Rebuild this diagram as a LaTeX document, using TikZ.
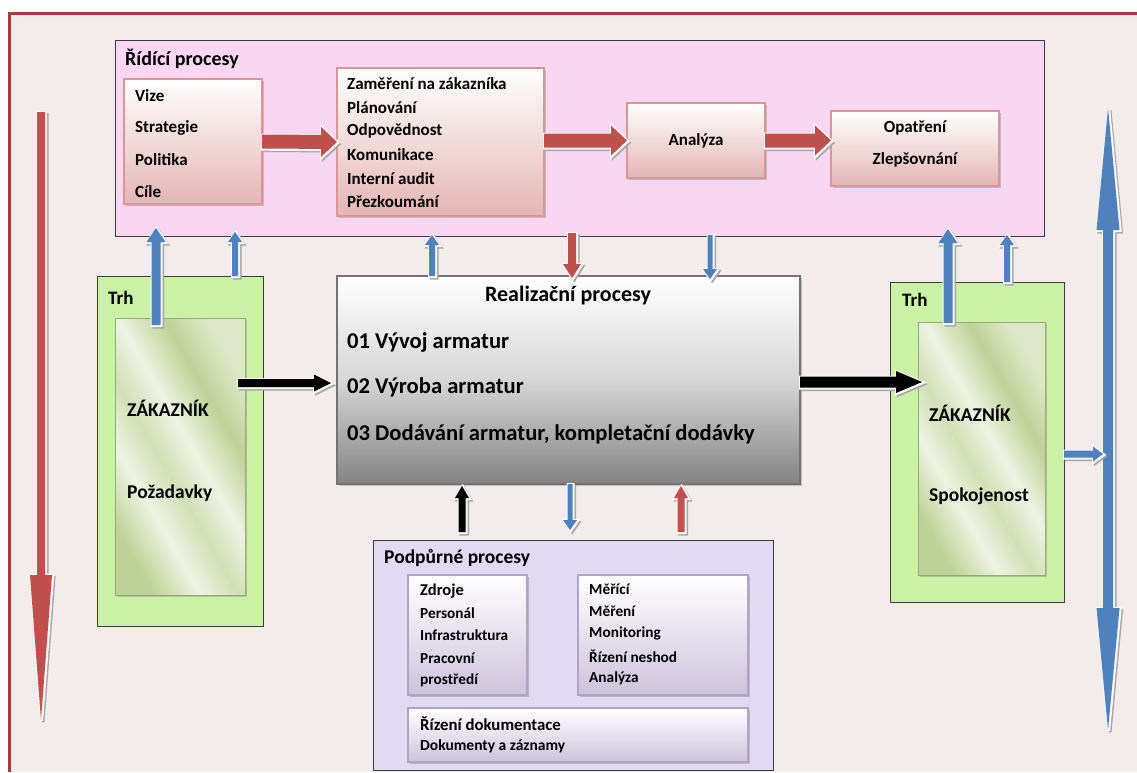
\documentclass[tikz,border=0pt]{standalone}
\usepackage{fontspec}
\setmainfont{Carlito}
\usetikzlibrary{calc,shadows}

\definecolor{bgpink}{HTML}{F4ECEC}
\definecolor{framered}{HTML}{A83C3C}
\definecolor{ridfill}{HTML}{F9D6F2}
\definecolor{rosebot}{HTML}{E4B6B5}
\definecolor{roseedge}{HTML}{D99694}
\definecolor{arrred}{HTML}{C0504D}
\definecolor{arrblue}{HTML}{4F81BD}
\definecolor{trhgreen}{HTML}{C9F2A4}
\definecolor{glassA}{HTML}{BFD297}
\definecolor{glassB}{HTML}{EEF3E2}
\definecolor{realbot}{HTML}{838383}
\definecolor{realmid}{HTML}{D6D6D6}
\definecolor{podfill}{HTML}{E0DAF3}
\definecolor{lilacbot}{HTML}{CDC2DC}
\definecolor{lilacedge}{HTML}{B3A2C7}
\definecolor{boxline}{HTML}{3C3C3C}

% striped glass look of the customer panels
\pgfdeclarehorizontalshading{glass}{100bp}{color(0bp)=(glassA); color(25bp)=(glassA);
  color(36bp)=(glassB); color(45bp)=(glassA!60!glassB); color(54bp)=(glassB);
  color(65bp)=(glassA); color(75bp)=(glassA!35!glassB); color(100bp)=(glassA!35!glassB)}

\tikzset{
  softshadow/.style={drop shadow={shadow xshift=2pt,shadow yshift=-2pt,fill=black!45,opacity=.45}},
  groupbox/.style={draw=boxline,line width=1pt},
  rosebox/.style={draw=roseedge,line width=1.2pt,top color=white,bottom color=rosebot,softshadow},
  lilacbox/.style={draw=lilacedge,line width=1.2pt,top color=white,bottom color=lilacbot,softshadow},
  glasspanel/.style={shading=glass,shading angle=30,draw=glassA!80!black,line width=.4pt,softshadow},
  realbox/.style={draw=black!55,line width=1.2pt,top color=white,bottom color=realbot,middle color=realmid,softshadow},
  txt/.style={inner sep=0pt,anchor=west,font=\bfseries\fontsize{#1}{#1}\selectfont},
  txt/.default=17,
  ctxt/.style={inner sep=0pt,anchor=center,font=\bfseries\fontsize{#1}{#1}\selectfont},
  ctxt/.default=17,
}

% rectangle node from its two corners
\newcommand\boxat[6]{%
  \node[#1,anchor=north west,minimum width={#5-#3},minimum height={#6-#4},inner sep=0pt,outer sep=0pt] (#2) at (#3,#4) {};}

% outlined block arrow: colour, shaft half width, head half width, head length, from, to, both ends (0/1)
\newcommand\blockarrowbase[7]{%
  \path (#5) coordinate (ba-s) (#6) coordinate (ba-e);
  \pgfpointdiff{\pgfpointanchor{ba-s}{center}}{\pgfpointanchor{ba-e}{center}}%
  \pgfgetlastxy\badx\bady
  \pgfmathsetmacro\baang{atan2(\bady,\badx)}%
  \pgfmathsetmacro\balen{veclen(\badx,\bady)}%
  \pgfmathsetmacro\babase{\balen-#4}%
  \ifnum#7=1
    \def\bashape{(0pt,0pt) -- (#4pt,-#3pt) -- (#4pt,-#2pt) -- (\babase pt,-#2pt) -- (\babase pt,-#3pt) -- (\balen pt,0pt)
      -- (\babase pt,#3pt) -- (\babase pt,#2pt) -- (#4pt,#2pt) -- (#4pt,#3pt) -- cycle}%
  \else
    \def\bashape{(0pt,-#2pt) -- (\babase pt,-#2pt) -- (\babase pt,-#3pt) -- (\balen pt,0pt)
      -- (\babase pt,#3pt) -- (\babase pt,#2pt) -- (0pt,#2pt) -- cycle}%
  \fi
  \begin{scope}[shift={(ba-s)},xshift=2.2pt,yshift=-2.2pt,rotate=\baang]
    \filldraw[fill=black!35,draw=black!35,line width=2.6pt] \bashape;
  \end{scope}
  \begin{scope}[shift={(ba-s)},xshift=.7pt,yshift=-.7pt,rotate=\baang]
    \filldraw[fill=white,draw=black!3,line width=3pt] \bashape;
  \end{scope}
  \begin{scope}[shift={(ba-s)},rotate=\baang]
    \fill[#1] \bashape;
  \end{scope}}
\newcommand\blockarrow[6]{\blockarrowbase{#1}{#2}{#3}{#4}{#5}{#6}{0}}
\newcommand\twowayarrow[6]{\blockarrowbase{#1}{#2}{#3}{#4}{#5}{#6}{1}}

\begin{document}
\begin{tikzpicture}[x=1pt,y=-1pt]
\useasboundingbox (0,0) rectangle (1137,772);

% page frame
\fill[bgpink] (9,13) rectangle (1137,772);
\draw[framered,line width=2.5pt] (9.5,772) -- (9.5,13.5) -- (1137,13.5);

% control processes
\boxat{groupbox,fill=ridfill}{rid}{115}{40}{1044}{236}
\node[txt=20] (ridt) at (125,59) {Řídící procesy};
\boxat{rosebox}{vize}{124}{79}{262}{204}
\foreach \t [count=\i] in {Vize,Strategie,Politika,Cíle}
  \node[txt] (vz\i) at (135,64+32*\i) {\t};
\boxat{rosebox}{zam}{337}{68}{544}{216}
\foreach \t [count=\i] in {Zaměření na zákazníka,Plánování,Odpovědnost,Komunikace,Interní audit,Přezkoumání}
  \node[txt] (zm\i) at (347,60.4+23.6*\i) {\t};
\boxat{rosebox}{ana}{627}{103}{765}{178}
\node[ctxt] (anat) at (ana.center) {Analýza};
\boxat{rosebox}{opa}{831}{111}{999}{186}
\node[ctxt] (opat) at (915,128) {Opatření};
\node[ctxt] (zlet) at (915,160) {Zlepšovnání};

% market, customer side
\boxat{groupbox,fill=trhgreen}{trhL}{97}{276}{263}{626}
\node[txt=19] (trhLt) at (108,298) {Trh};
\boxat{glasspanel}{zkL}{115}{318}{245}{595}
\node[txt=19.5] (zkL1) at (127,408) {ZÁKAZNÍK};
\node[txt=19.5] (zkL2) at (127,493) {Požadavky};

\boxat{groupbox,fill=trhgreen}{trhR}{890}{282}{1064}{602}
\node[txt=19] (trhRt) at (902,300) {Trh};
\boxat{glasspanel}{zkR}{918}{322}{1045}{575}
\node[txt=19.5] (zkR1) at (929,413) {ZÁKAZNÍK};
\node[txt=19.5] (zkR2) at (929,496) {Spokojenost};

% realisation processes
\boxat{realbox}{real}{337}{276}{800}{484}
\node[ctxt=22] (realt) at (568,296) {Realizační procesy};
\node[txt=22.6] (re1) at (347,342) {01 Vývoj armatur};
\node[txt=22.6] (re2) at (347,387) {02 Výroba armatur};
\node[txt=22.6] (re3) at (347,434) {03 Dodávání armatur, kompletační dodávky};

% support processes
\boxat{groupbox,fill=podfill}{pod}{373}{540}{773}{770}
\node[txt=19.5] (podt) at (384,558) {Podpůrné procesy};
\boxat{lilacbox}{zdr}{408}{575}{527}{695}
\node[txt=16.5] (zd1) at (420,591) {Zdroje};
\foreach \t [count=\i from 2] in {Personál,Infrastruktura,Pracovní,prostředí}
  \node[txt=15.3] (zd\i) at (420,569+22.2*\i) {\t};
\boxat{lilacbox}{mer}{578}{575}{748}{695}
\foreach \t [count=\i] in {Měřící,Měření,Monitoring,Řízení neshod,Analýza}
  \node[txt=15.3] (mr\i) at (589,567+22.2*\i) {\t};
\boxat{lilacbox}{dok}{408}{708}{748}{762}
\node[txt=16.8] (dk1) at (420,724) {Řízení dokumentace};
\node[txt=15.5] (dk2) at (420,746) {Dokumenty a záznamy};

% flow inside the control processes
\blockarrow{arrred}{7}{15}{16}{vize.east}{zam.west}
\blockarrow{arrred}{7}{15}{16}{ana.west -| zam.east}{ana.west}
\blockarrow{arrred}{7}{15}{16}{ana.east}{ana.east -| opa.west}

% links between the groups
\coordinate (uL1) at (156,325);
\blockarrow{arrblue}{4.5}{9.5}{14}{uL1}{$(uL1 |- rid.south)+(0,-8)$}
\blockarrow{arrblue}{3}{7}{10}{trhL.north -| 235,0}{$(235,0 |- rid.south)+(0,-4)$}
\blockarrow{arrblue}{3}{7}{10}{real.north -| 432,0}{$(432,0 |- rid.south)+(0,-1)$}
\blockarrow{arrred}{4}{9}{14}{$(572,0 |- rid.south)+(0,-3)$}{$(572,0 |- real.north)+(0,2)$}
\blockarrow{arrblue}{2.5}{7}{10}{$(710,0 |- rid.south)+(0,-1)$}{$(710,0 |- real.north)+(0,3)$}
\coordinate (uR1) at (948,323);
\blockarrow{arrblue}{4.5}{9.5}{14}{uR1}{$(uR1 |- rid.south)+(0,-7)$}
\blockarrow{arrblue}{3}{7}{10}{trhR.north -| 1007,0}{$(1007,0 |- rid.south)+(0,-1)$}

\blockarrow{black}{3.5}{7}{12}{$(462,0 |- pod.north)+(0,-8)$}{$(462,0 |- real.south)+(0,2)$}
\blockarrow{arrblue}{2.5}{7}{10}{real.south -| 570,0}{$(570,0 |- pod.north)+(0,-10)$}
\blockarrow{arrred}{3.5}{7}{12}{$(681,0 |- pod.north)+(0,-8)$}{$(681,0 |- real.south)+(0,2)$}

\blockarrow{black}{4}{8.5}{17}{$(zkL.east |- re2.west)+(-7,-4)$}{$(re2.west)+(-16,-4)$}
\coordinate (cusR) at (922,382);
\blockarrow{black}{5.5}{11}{26}{real.east |- cusR}{cusR}

% outer cycle arrows
\coordinate (downS) at (41,112);
\coordinate (downE) at (41,720);
\blockarrow{arrred}{4}{11}{145}{downS}{downE}
\coordinate (upT) at (1108,108);
\coordinate (upB) at (1108,730);
\twowayarrow{arrblue}{5}{11.5}{122}{upB}{upT}
\blockarrow{arrblue}{3.5}{7.5}{10}{trhR.east |- 0,454}{$(upT |- 0,454)+(-5,0)$}
\end{tikzpicture}
\end{document}
